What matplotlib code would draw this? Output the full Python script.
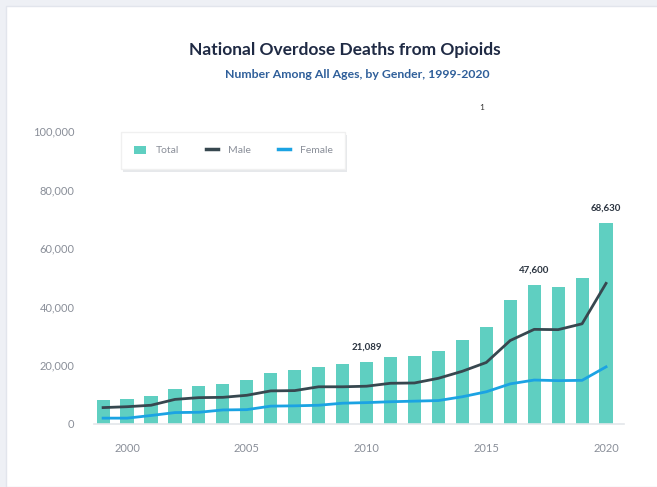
import numpy as np
import matplotlib
matplotlib.use('Agg')
import matplotlib.pyplot as plt
from matplotlib.lines import Line2D
from matplotlib.patches import Patch, Rectangle

plt.rcParams['font.family'] = ['Lato', 'DejaVu Sans']

# ── Data ──────────────────────────────────────────────────
years  = list(range(1999, 2021))
total  = [8048, 8407, 9496, 11920, 12940, 13756, 14918, 17545, 18516, 19582, 20422,
          21089, 22784, 23166, 25052, 28647, 33091, 42249, 47600, 46802, 49860, 68630]
male   = [5600, 5900, 6400, 8400, 9000, 9100, 9800, 11300, 11400, 12700, 12700,
          12900, 13900, 14000, 15600, 18000, 21000, 28500, 32300, 32200, 34200, 48000]
female = [2000, 2000, 2900, 3900, 4000, 4800, 4900, 6100, 6200, 6400, 7100,
          7300, 7600, 7800, 8000, 9300, 11000, 13700, 15000, 14800, 14900, 19500]
labelled_years = [2010, 2017, 2020]
xtick_years = [2000, 2005, 2010, 2015, 2020]
ytick_vals  = [0, 20000, 40000, 60000, 80000, 100000]

TEAL   = '#5fcfc1'
DARK   = '#37474f'
BLUE   = '#1ba3e3'
GREY   = '#8a8f99'

W, H = 657, 487
fig = plt.figure(figsize=(W / 100, H / 100), dpi=100)
fig.patch.set_facecolor('white')

# card border / background strip
fig.patches.append(Rectangle((0, 0), 1, 1, transform=fig.transFigure,
                             facecolor='#eef0f5', edgecolor='none', zorder=-3))
fig.patches.append(Rectangle((6 / W, 0), 1, 1 - 6 / H, transform=fig.transFigure,
                             facecolor='white', edgecolor='#e2e5ec', lw=1, zorder=-2))

ax = fig.add_axes([94 / W, 1 - 424 / H, (624 - 94) / W, (424 - 131) / H])
ax.set_facecolor('none')

ax.bar(years, total, width=0.55, color=TEAL, zorder=2)
ax.plot(years, male, color=DARK, lw=2, zorder=3)
ax.plot(years, female, color=BLUE, lw=2, zorder=3)

for yr in labelled_years:
    v = total[years.index(yr)]
    ax.text(yr, v + 3500, f'{v:,}', ha='center', va='bottom', fontsize=7,
            fontweight='bold', color='#2b3440')

ax.set_xlim(1998.62, 2020.75)
ax.set_ylim(0, 100000)
ax.set_xticks(xtick_years)
ax.set_yticks(ytick_vals)
ax.set_yticklabels([f'{v:,}' for v in ytick_vals])
ax.tick_params(axis='both', length=0, colors=GREY, labelsize=8)
ax.tick_params(axis='x', pad=14)
ax.tick_params(axis='y', pad=14)
for s in ['top', 'right', 'left']:
    ax.spines[s].set_visible(False)
ax.spines['bottom'].set_color('#e3e6ea')
ax.spines['bottom'].set_linewidth(1.2)

# legend box with soft shadow
lx0, ly0, lx1, ly1 = 121 / W, 1 - 169 / H, 345 / W, 1 - 132 / H
fig.patches.append(Rectangle((lx0 + 2 / W, ly0 - 3 / H), lx1 - lx0, ly1 - ly0,
                             transform=fig.transFigure, facecolor='#e6e8eb',
                             edgecolor='none', zorder=4))
fig.patches.append(Rectangle((lx0, ly0), lx1 - lx0, ly1 - ly0,
                             transform=fig.transFigure, facecolor='white',
                             edgecolor='#f0f0f0', zorder=5))
handles = [Patch(facecolor=TEAL, edgecolor='none'),
           Line2D([0], [0], color=DARK, lw=2.5),
           Line2D([0], [0], color=BLUE, lw=2.5)]
leg = fig.legend(handles, ['Total', 'Male', 'Female'], loc='center',
                 bbox_to_anchor=((lx0 + lx1) / 2, (ly0 + ly1) / 2), ncol=3,
                 frameon=False, fontsize=7.5, labelcolor=GREY, handlelength=1.2,
                 handleheight=0.8, columnspacing=2.6, handletextpad=0.9)
leg.set_zorder(6)

fig.text(345 / W, 1 - 50 / H, 'National Overdose Deaths from Opioids',
         ha='center', va='center', fontsize=12.5, fontweight='bold', color='#1f2a44')
fig.text(357 / W, 1 - 75 / H, 'Number Among All Ages, by Gender, 1999-2020',
         ha='center', va='center', fontsize=8.8, fontweight='bold', color='#2f5f9a')
fig.text(482 / W, 1 - 108 / H, '1', ha='center', va='center', fontsize=6,
         color='#333333')

fig.savefig('out.png', dpi=100)
